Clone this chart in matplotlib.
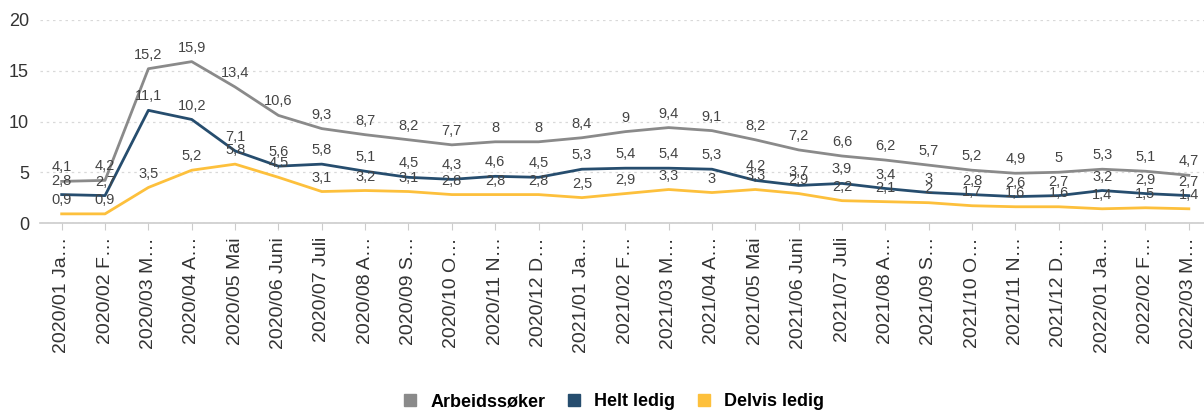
import matplotlib.pyplot as plt

# --- DATA ---
months = ["2020/01 Ja…", "2020/02 F…", "2020/03 M…", "2020/04 A…", "2020/05 Mai",
          "2020/06 Juni", "2020/07 Juli", "2020/08 A…", "2020/09 S…", "2020/10 O…",
          "2020/11 N…", "2020/12 D…", "2021/01 Ja…", "2021/02 F…", "2021/03 M…",
          "2021/04 A…", "2021/05 Mai", "2021/06 Juni", "2021/07 Juli", "2021/08 A…",
          "2021/09 S…", "2021/10 O…", "2021/11 N…", "2021/12 D…", "2022/01 Ja…",
          "2022/02 F…", "2022/03 M…"]
arbeidssoker = [4.1, 4.2, 15.2, 15.9, 13.4, 10.6, 9.3, 8.7, 8.2, 7.7, 8, 8, 8.4, 9, 9.4,
                9.1, 8.2, 7.2, 6.6, 6.2, 5.7, 5.2, 4.9, 5, 5.3, 5.1, 4.7]
helt_ledig = [2.8, 2.7, 11.1, 10.2, 7.1, 5.6, 5.8, 5.1, 4.5, 4.3, 4.6, 4.5, 5.3, 5.4, 5.4,
              5.3, 4.2, 3.7, 3.9, 3.4, 3, 2.8, 2.6, 2.7, 3.2, 2.9, 2.7]
delvis_ledig = [0.9, 0.9, 3.5, 5.2, 5.8, 4.5, 3.1, 3.2, 3.1, 2.8, 2.8, 2.8, 2.5, 2.9, 3.3,
                3, 3.3, 2.9, 2.2, 2.1, 2, 1.7, 1.6, 1.6, 1.4, 1.5, 1.4]
series_names = ["Arbeidssøker", "Helt ledig", "Delvis ledig"]
colors = ["#8a8a8a", "#264d6e", "#fdc03c"]

plt.rcParams['font.family'] = ['Liberation Sans', 'DejaVu Sans']

fig = plt.figure(figsize=(12.04, 4.12), dpi=100)
ax = fig.add_axes([40 / 1204, 1 - 223 / 412, 1 - 40 / 1204, (223 - 20) / 412])

x = list(range(len(months)))
for vals, name, col in zip([arbeidssoker, helt_ledig, delvis_ledig], series_names, colors):
    ax.plot(x, vals, color=col, lw=2.0, label=name, zorder=3)
    # etiquettes de valeur au-dessus de chaque point
    for xi, v in zip(x, vals):
        txt = f"{v:g}".replace(".", ",")
        ax.annotate(txt, (xi, v), xytext=(0, 5), textcoords="offset points",
                    ha="center", va="bottom", fontsize=10.5, color="#444444", zorder=4)

ax.set_ylim(0, 20)
ax.set_xlim(-0.5, 26.35)
ax.set_yticks([0, 5, 10, 15, 20])
ax.set_xticks(x)
ax.set_xticklabels(months, rotation=90, fontsize=14, color="#333333")
ax.tick_params(axis="y", length=0, labelsize=13, labelcolor="#333333", pad=8)
ax.tick_params(axis="x", length=5, color="#cccccc", pad=5)
ax.grid(axis="y", linestyle=(0, (2, 3)), color="#d9d9d9", lw=0.9)
for s in ["top", "right", "left"]:
    ax.spines[s].set_visible(False)
ax.spines["bottom"].set_color("#cccccc")
ax.spines["bottom"].set_linewidth(1.2)
ax.set_axisbelow(True)

handles = [plt.Line2D([], [], marker="s", linestyle="none", markersize=8,
                      color=c) for c in colors]
fig.legend(handles, series_names, loc="center", bbox_to_anchor=(608 / 1204, 1 - 402 / 412),
           ncol=3, frameon=False, handletextpad=0.1, columnspacing=0.6,
           prop={"weight": "bold", "size": 13})

fig.savefig("out.png", dpi=100)
